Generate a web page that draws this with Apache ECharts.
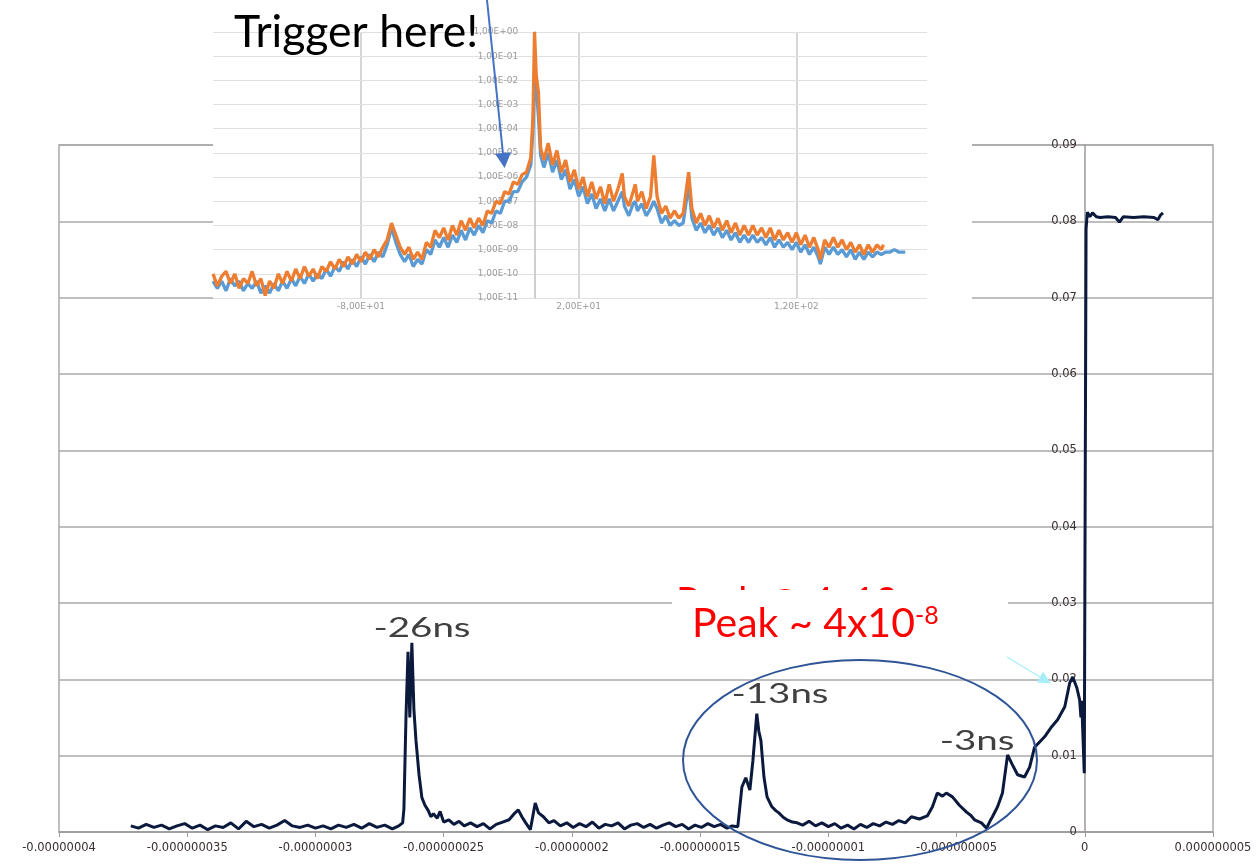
<!DOCTYPE html>
<html><head><meta charset="utf-8">
<script src="https://cdn.jsdelivr.net/npm/echarts@6/dist/echarts.min.js"></script>
<style>html,body{margin:0;padding:0;background:#fff}#c{width:1256px;height:865px}</style>
</head><body><div id="c"></div>
<script>
// ---------- main chart data (time in ns, signal) ----------
const mainSignal = [
[-37.2,0.0008],[-36.9,0.0005],[-36.6,0.0010],[-36.3,0.0006],[-36.0,0.0009],[-35.7,0.0004],[-35.4,0.0008],[-35.1,0.0011],
[-34.8,0.0005],[-34.5,0.0009],[-34.2,0.0003],[-33.9,0.0008],[-33.6,0.0006],[-33.3,0.0012],[-33.0,0.0004],[-32.7,0.0014],
[-32.4,0.0007],[-32.1,0.0010],[-31.8,0.0005],[-31.5,0.0009],[-31.2,0.0015],[-30.9,0.0008],[-30.6,0.0006],[-30.3,0.0009],
[-30.0,0.0005],[-29.7,0.0008],[-29.4,0.0004],[-29.1,0.0009],[-28.8,0.0006],[-28.5,0.0010],[-28.2,0.0005],[-27.9,0.0011],
[-27.6,0.0006],[-27.3,0.0009],[-27.0,0.0004],[-26.75,0.0008],[-26.6,0.0012],
[-26.55,0.0030],[-26.47,0.0150],[-26.39,0.0236],[-26.32,0.0150],[-26.24,0.0248],[-26.16,0.0160],[-26.08,0.0120],
[-25.96,0.0075],[-25.85,0.0045],[-25.73,0.0035],[-25.60,0.0028],[-25.50,0.0020],[-25.40,0.0024],[-25.25,0.0018],
[-25.14,0.0027],[-25.00,0.0013],[-24.80,0.0016],[-24.60,0.0010],[-24.40,0.0014],[-24.20,0.0008],[-23.95,0.0012],
[-23.70,0.0007],[-23.45,0.0011],[-23.20,0.0004],[-22.95,0.0010],[-22.70,0.0013],[-22.45,0.0016],[-22.25,0.0024],
[-22.09,0.0029],[-21.95,0.0020],[-21.80,0.0012],[-21.62,0.0003],[-21.43,0.0038],[-21.30,0.0025],[-21.11,0.0020],
[-20.90,0.0012],[-20.70,0.0015],[-20.45,0.0008],[-20.20,0.0012],[-19.95,0.0006],[-19.70,0.0011],[-19.45,0.0007],
[-19.20,0.0013],[-18.95,0.0005],[-18.70,0.0010],[-18.45,0.0008],[-18.20,0.0012],[-17.95,0.0004],[-17.70,0.0009],
[-17.45,0.0011],[-17.20,0.0006],[-16.95,0.0010],[-16.70,0.0005],[-16.45,0.0009],[-16.20,0.0012],[-15.95,0.0007],
[-15.70,0.0010],[-15.45,0.0004],[-15.20,0.0009],[-14.95,0.0006],[-14.70,0.0011],[-14.45,0.0007],[-14.20,0.0010],
[-13.95,0.0005],[-13.75,0.0008],[-13.53,0.0007],
[-13.37,0.0059],[-13.22,0.0071],[-13.06,0.0055],[-12.94,0.0094],[-12.79,0.0155],[-12.71,0.0132],[-12.63,0.0120],
[-12.51,0.0072],[-12.39,0.0046],[-12.20,0.0033],[-12.05,0.0028],[-11.93,0.0025],[-11.75,0.0019],[-11.61,0.0016],
[-11.40,0.0013],[-11.22,0.0012],[-11.00,0.0009],[-10.75,0.0014],[-10.50,0.0008],[-10.25,0.0012],[-10.00,0.0007],
[-9.75,0.0011],[-9.50,0.0005],[-9.25,0.0009],[-9.00,0.0004],[-8.75,0.0010],[-8.50,0.0006],[-8.25,0.0011],
[-8.00,0.0008],[-7.75,0.0013],[-7.50,0.0010],[-7.25,0.0015],[-7.00,0.0012],[-6.76,0.0020],[-6.45,0.0017],
[-6.14,0.0021],[-5.94,0.0033],[-5.75,0.0051],[-5.55,0.0047],[-5.40,0.0051],[-5.16,0.0046],[-4.89,0.0035],
[-4.61,0.0026],[-4.45,0.0022],[-4.30,0.0016],[-4.03,0.0012],[-3.83,0.0005],[-3.70,0.0014],[-3.60,0.0020],
[-3.40,0.0033],[-3.21,0.0051],[-3.01,0.0101],[-2.82,0.0088],[-2.62,0.0075],[-2.35,0.0072],[-2.15,0.0085],
[-1.96,0.0111],[-1.76,0.0118],[-1.56,0.0125],[-1.29,0.0138],[-1.06,0.0147],[-0.78,0.0164],[-0.59,0.0195],
[-0.47,0.0203],[-0.31,0.0189],[-0.20,0.0173],[-0.15,0.0150],[-0.12,0.0172],[-0.06,0.0115],[-0.02,0.0077],
[0.05,0.0790],[0.10,0.0812],[0.20,0.0806],[0.30,0.0811],[0.45,0.0806],[0.60,0.0805],[0.90,0.0806],[1.20,0.0805],
[1.35,0.0799],[1.50,0.0806],[1.90,0.0805],[2.30,0.0806],[2.70,0.0805],[2.85,0.0802],[2.95,0.0808],[3.05,0.0811]
];
const mainXTickValues = [-40,-35,-30,-25,-20,-15,-10,-5,0,5];
const mainXTickLabels = ['-0.00000004','-0.000000035','-0.00000003','-0.000000025','-0.00000002',
  '-0.000000015','-0.00000001','-0.000000005','0','0.000000005'];
const mainYTickLabels = ['0','0.01','0.02','0.03','0.04','0.05','0.06','0.07','0.08','0.09'];

// ---------- inset chart data (x, log10 of value) ----------
const insetOrange = [
[-148,-10.0],[-146,-10.5],[-144,-10.1],[-142,-9.9],[-140,-10.4],[-138,-10.0],[-136,-10.6],[-134,-10.2],
[-132,-10.4],[-130,-9.9],[-128,-10.5],[-126,-10.2],[-124,-10.9],[-122,-10.3],[-120,-10.6],[-118,-10.0],
[-116,-10.4],[-114,-9.9],[-112,-10.3],[-110,-9.8],[-108,-10.2],[-106,-9.7],[-104,-10.1],[-102,-9.8],
[-100,-10.2],[-98,-9.7],[-96,-9.9],[-94,-9.5],[-92,-9.8],[-90,-9.4],[-88,-9.7],[-86,-9.3],[-84,-9.6],
[-82,-9.2],[-80,-9.5],[-78,-9.1],[-76,-9.4],[-74,-9.0],[-72,-9.3],[-70,-8.9],[-68,-8.6],[-66,-7.9],
[-64,-8.4],[-62,-8.9],[-60,-9.2],[-58,-8.9],[-56,-9.4],[-54,-9.1],[-52,-9.4],[-50,-8.7],[-48,-8.9],
[-46,-8.2],[-44,-8.5],[-42,-8.1],[-40,-8.6],[-38,-8.0],[-36,-8.4],[-34,-7.8],[-32,-8.2],[-30,-7.7],
[-28,-8.1],[-26,-7.7],[-24,-8.0],[-22,-7.4],[-20,-7.5],[-18,-7.0],[-16,-7.1],[-14,-6.6],[-12,-6.7],
[-10,-6.2],[-8,-6.3],[-6,-5.9],[-4,-5.8],[-2,-5.2],[-1,-3.5],[-0.3,0.0],[0.5,-1.8],[1.5,-2.5],[2.5,-4.8],
[4,-5.3],[6,-4.6],[8,-5.5],[10,-4.9],[12,-5.8],[14,-5.3],[16,-6.2],[18,-5.7],[20,-6.5],[22,-6.0],
[24,-6.8],[26,-6.2],[28,-6.9],[30,-6.4],[32,-7.1],[34,-6.3],[36,-7.0],[38,-6.5],[40,-5.85],[41,-6.8],
[43,-7.2],[45,-6.6],[46,-6.3],[47,-7.0],[49,-6.6],[51,-7.3],[53,-6.8],[54.5,-5.1],[56,-6.8],[58,-7.5],
[60,-7.2],[62,-7.7],[64,-7.4],[66,-7.7],[68,-7.5],[70.5,-5.8],[72,-7.3],[74,-7.9],[76,-7.5],[78,-8.0],
[80,-7.6],[82,-8.1],[84,-7.7],[86,-8.2],[88,-7.8],[90,-8.3],[92,-7.9],[94,-8.4],[96,-8.0],[98,-8.4],
[100,-8.0],[102,-8.4],[104,-8.1],[106,-8.5],[108,-8.1],[110,-8.6],[112,-8.2],[114,-8.6],[116,-8.3],
[118,-8.7],[120,-8.3],[122,-8.8],[124,-8.4],[126,-8.9],[128,-8.5],[130,-9.0],[131,-9.4],[133,-8.6],
[135,-8.9],[137,-8.5],[139,-8.9],[141,-8.6],[143,-9.0],[145,-8.7],[147,-9.1],[149,-8.8],[151,-9.2],
[153,-8.8],[155,-9.1],[157,-8.8],[159,-9.0],[160,-8.8]
];
const insetBlue = [
[-148,-10.3],[-146,-10.6],[-144,-10.3],[-142,-10.7],[-140,-10.2],[-138,-10.5],[-136,-10.3],[-134,-10.7],
[-132,-10.4],[-130,-10.6],[-128,-10.3],[-126,-10.8],[-124,-10.5],[-122,-10.8],[-120,-10.4],[-118,-10.7],
[-116,-10.3],[-114,-10.6],[-112,-10.2],[-110,-10.5],[-108,-10.1],[-106,-10.4],[-104,-10.0],[-102,-10.3],
[-100,-10.0],[-98,-10.2],[-96,-9.8],[-94,-10.1],[-92,-9.7],[-90,-9.9],[-88,-9.5],[-86,-9.8],[-84,-9.4],
[-82,-9.7],[-80,-9.3],[-78,-9.6],[-76,-9.2],[-74,-9.5],[-72,-9.1],[-70,-9.3],[-68,-8.8],[-66,-8.1],
[-64,-8.7],[-62,-9.2],[-60,-9.5],[-58,-9.2],[-56,-9.7],[-54,-9.4],[-52,-9.6],[-50,-9.0],[-48,-9.2],
[-46,-8.6],[-44,-8.9],[-42,-8.5],[-40,-8.9],[-38,-8.4],[-36,-8.7],[-34,-8.2],[-32,-8.6],[-30,-8.1],
[-28,-8.4],[-26,-8.0],[-24,-8.3],[-22,-7.8],[-20,-7.9],[-18,-7.4],[-16,-7.5],[-14,-7.0],[-12,-7.0],
[-10,-6.6],[-8,-6.6],[-6,-6.2],[-4,-6.0],[-2,-5.5],[-1,-4.0],[-0.3,-2.0],[0.5,-2.3],[1.5,-3.5],[2.5,-5.1],
[4,-5.6],[6,-5.0],[8,-5.8],[10,-5.3],[12,-6.1],[14,-5.7],[16,-6.5],[18,-6.1],[20,-6.8],[22,-6.4],
[24,-7.1],[26,-6.7],[28,-7.3],[30,-6.9],[32,-7.4],[34,-6.9],[36,-7.4],[38,-7.0],[40,-6.6],[41,-7.2],
[43,-7.6],[45,-7.1],[46,-7.0],[47,-7.4],[49,-7.1],[51,-7.6],[53,-7.3],[54.5,-7.0],[56,-7.3],[58,-7.9],
[60,-7.6],[62,-8.0],[64,-7.8],[66,-8.0],[68,-7.9],[70.5,-6.3],[72,-7.7],[74,-8.2],[76,-7.9],[78,-8.3],
[80,-8.0],[82,-8.4],[84,-8.1],[86,-8.5],[88,-8.2],[90,-8.6],[92,-8.3],[94,-8.7],[96,-8.4],[98,-8.7],
[100,-8.4],[102,-8.7],[104,-8.5],[106,-8.8],[108,-8.5],[110,-8.9],[112,-8.6],[114,-8.9],[116,-8.7],
[118,-9.0],[120,-8.7],[122,-9.1],[124,-8.8],[126,-9.2],[128,-8.9],[130,-9.3],[131,-9.6],[133,-8.9],
[135,-9.2],[137,-8.9],[139,-9.2],[141,-9.0],[143,-9.3],[145,-9.0],[147,-9.4],[149,-9.1],[151,-9.4],
[153,-9.1],[155,-9.3],[157,-9.1],[159,-9.2],[161,-9.1],[163,-9.1],[165,-9.0],[167,-9.1],[170,-9.1]
];
const insetXTickValues = [-80, 20, 120];
const insetXTickLabels = ['-8,00E+01','2,00E+01','1,20E+02'];
const insetYTickLabels = ['1,00E-11','1,00E-10','1,00E-09','1,00E-08','1,00E-07','1,00E-06',
  '1,00E-05','1,00E-04','1,00E-03','1,00E-02','1,00E-01','1,00E+00'];

// ---------- annotation texts ----------
const triggerText = 'Trigger here!';
const peakLabels = ['-26ns', '-13ns', '-3ns'];
const peakNote = 'Peak ~ 4x10';
const peakNoteExp = '-8';
const hiddenNote = 'Peak @ 4x10';

// ---------- layout ----------
const mainGrid = {left: 59, right: 43, top: 145, bottom: 33};
const mainX = {min: -40, max: 5};
const insetGrid = {left: 213, right: 329, top: 32, bottom: 567};
const insetX = {min: -148, max: 180};
const W = 1256;
function zeroOffset(g, ax) { // distance from grid's left edge to x = 0
  const w = W - g.left - g.right;
  return (0 - ax.min) / (ax.max - ax.min) * w;
}

const chart = echarts.init(document.getElementById('c'), null, {renderer: 'canvas'});
const axisFont = 'DejaVu Sans';
const slideFont = 'Lato';

chart.setOption({
  animation: false,
  backgroundColor: '#ffffff',
  grid: [
    Object.assign({show: true, borderColor: '#a9a9a9', borderWidth: 1.5, backgroundColor: 'transparent',
      outerBoundsMode: 'none', containLabel: false}, mainGrid),
    Object.assign({show: false, outerBoundsMode: 'none', containLabel: false}, insetGrid)
  ],
  xAxis: [
    {type: 'value', gridIndex: 0, min: mainX.min, max: mainX.max, interval: 5,
     axisLine: {show: true, onZero: false, lineStyle: {color: '#9a9a9a', width: 1.5}},
     axisTick: {show: true, length: 5, lineStyle: {color: '#9a9a9a'}},
     splitLine: {show: false},
     axisLabel: {margin: 10, fontFamily: axisFont, fontSize: 11.5, color: '#3a2e2e',
       formatter: v => { const i = mainXTickValues.indexOf(Math.round(v)); return i >= 0 ? mainXTickLabels[i] : ''; }}},
    {type: 'value', gridIndex: 1, min: insetX.min, max: insetX.max, z: 6,
     axisLine: {show: false, onZero: false},
     axisTick: {show: false},
     splitLine: {show: false},
     axisLabel: {customValues: insetXTickValues, margin: 4, fontFamily: axisFont, fontSize: 9, color: '#9a9a9a',
       formatter: v => { const i = insetXTickValues.indexOf(Math.round(v)); return i >= 0 ? insetXTickLabels[i] : ''; }}}
  ],
  yAxis: [
    {type: 'value', gridIndex: 0, min: 0, max: 0.09, interval: 0.01, position: 'left',
     offset: -zeroOffset(mainGrid, mainX),
     axisLine: {show: true, onZero: false, lineStyle: {color: '#9a9a9a', width: 1.5}},
     axisTick: {show: false},
     splitLine: {show: true, lineStyle: {color: '#a9a9a9', width: 1.5}},
     axisLabel: {margin: 8, fontFamily: axisFont, fontSize: 11.5, color: '#3a2e2e',
       formatter: v => mainYTickLabels[Math.round(v * 100)]}},
    {type: 'value', gridIndex: 1, min: -11, max: 0, interval: 1, z: 6, position: 'left',
     offset: -zeroOffset(insetGrid, insetX),
     axisLine: {show: true, onZero: false, lineStyle: {color: '#cfcfcf', width: 2}},
     axisTick: {show: false},
     splitLine: {show: true, lineStyle: {color: '#e0e0e0', width: 1}},
     axisLabel: {margin: 17, fontFamily: axisFont, fontSize: 9, color: '#9a9a9a',
       formatter: v => insetYTickLabels[Math.round(v) + 11]}}
  ],
  series: [
    {type: 'line', xAxisIndex: 0, yAxisIndex: 0, data: mainSignal, showSymbol: false, z: 2,
     lineStyle: {color: '#0b1a3c', width: 3}, itemStyle: {color: '#0b1a3c'}, silent: true},
    {type: 'line', xAxisIndex: 1, yAxisIndex: 1, data: [], z: 6, silent: true,
     markLine: {silent: true, symbol: 'none', label: {show: false},
       lineStyle: {color: '#d6d6d6', width: 2, type: 'solid'},
       data: insetXTickValues.map(v => ({xAxis: v}))}},
    {type: 'line', xAxisIndex: 1, yAxisIndex: 1, data: insetBlue, showSymbol: false, z: 7,
     lineStyle: {color: '#5b9bd5', width: 3.3}, itemStyle: {color: '#5b9bd5'}, silent: true},
    {type: 'line', xAxisIndex: 1, yAxisIndex: 1, data: insetOrange, showSymbol: false, z: 8,
     lineStyle: {color: '#ed7d31', width: 3.3}, itemStyle: {color: '#ed7d31'}, silent: true}
  ],
  graphic: [
    {type: 'rect', z: 5, shape: {x: 213, y: 0, width: 759, height: 313}, style: {fill: '#ffffff'}, silent: true},
    {type: 'text', z: 4, x: 676, y: 583, style: {text: hiddenNote, fontFamily: slideFont, fontSize: 39, fill: '#ff0000', verticalAlign: 'top'}},
    {type: 'rect', z: 5, shape: {x: 672, y: 590, width: 336, height: 62}, style: {fill: '#ffffff'}, silent: true},
    {type: 'text', z: 10, x: 234, y: 33, style: {text: triggerText, fontFamily: slideFont, fontSize: 44.5, fill: '#000000', verticalAlign: 'middle'}},
    {type: 'line', z: 10, shape: {x1: 487, y1: 0, x2: 503, y2: 154}, style: {stroke: '#4472c4', lineWidth: 2}},
    {type: 'polygon', z: 10, shape: {points: [[504.6, 168], [495, 153.8], [511, 152.2]]}, style: {fill: '#4472c4'}},
    {type: 'text', z: 10, x: 422, y: 629, scaleX: 1.48, style: {text: peakLabels[0], fontFamily: slideFont, fontSize: 26, fill: '#404040', align: 'center', verticalAlign: 'middle'}},
    {type: 'text', z: 10, x: 780, y: 695, scaleX: 1.48, style: {text: peakLabels[1], fontFamily: slideFont, fontSize: 26, fill: '#404040', align: 'center', verticalAlign: 'middle'}},
    {type: 'text', z: 10, x: 977, y: 742, scaleX: 1.48, style: {text: peakLabels[2], fontFamily: slideFont, fontSize: 26, fill: '#404040', align: 'center', verticalAlign: 'middle'}},
    {type: 'text', z: 10, x: 692, y: 603, style: {
      text: '{a|' + peakNote + '}{b|' + peakNoteExp + '}', verticalAlign: 'top',
      rich: {a: {fontFamily: slideFont, fontSize: 41, fill: '#ff0000', verticalAlign: 'bottom'},
             b: {fontFamily: slideFont, fontSize: 25, fill: '#ff0000', verticalAlign: 'top'}}}},
    {type: 'ellipse', z: 10, shape: {cx: 860, cy: 760, rx: 177, ry: 100}, style: {fill: 'none', stroke: '#2f5597', lineWidth: 2}},
    {type: 'line', z: 10, shape: {x1: 1007, y1: 657, x2: 1040, y2: 677}, style: {stroke: '#a8eef8', lineWidth: 1.2}},
    {type: 'polygon', z: 10, shape: {points: [[1051, 683.5], [1037, 682.5], [1043, 671.5]]}, style: {fill: '#a8eef8'}}
  ]
});
</script>
</body></html>
